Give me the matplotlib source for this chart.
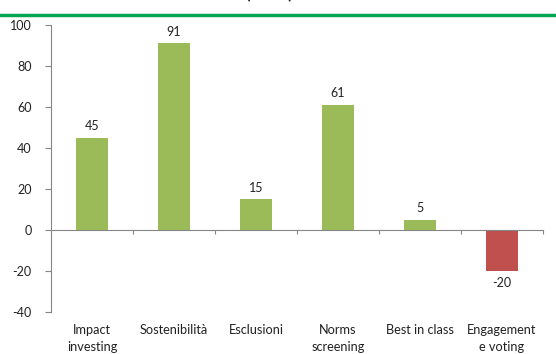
import matplotlib
matplotlib.use("Agg")
import matplotlib.pyplot as plt
from matplotlib.lines import Line2D
import matplotlib.transforms as mtransforms

categories = ["Impact\ninvesting", "Sostenibilità", "Esclusioni",
              "Norms\nscreening", "Best in class", "Engagement\ne voting"]
values = [45, 91, 15, 61, 5, -20]
y_ticks = [-40, -20, 0, 20, 40, 60, 80, 100]

GREEN = "#9BBB59"
RED = "#C0504D"
AXIS = "#868686"

plt.rcParams["font.family"] = ["Lato", "DejaVu Sans"]

W, H = 556, 354
fig = plt.figure(figsize=(W / 100, H / 100), dpi=100)
ax = fig.add_axes([51 / W, 1 - 312 / H, (543 - 51) / W, (312 - 25) / H])

x = list(range(len(categories)))
colors = [GREEN if v >= 0 else RED for v in values]
ax.bar(x, values, width=0.4, color=colors, zorder=2)

for xi, v in zip(x, values):
    if v >= 0:
        ax.annotate(f"{v}", (xi, v), xytext=(0, 4), textcoords="offset points",
                    ha="center", va="bottom", fontsize=9, color="#222222")
    else:
        ax.annotate(f"{v}", (xi, v), xytext=(0, -4), textcoords="offset points",
                    ha="center", va="top", fontsize=9, color="#222222")

ax.set_xlim(-0.5, len(categories) - 0.5)
ax.set_ylim(-40, 100)
ax.set_yticks(y_ticks)
ax.set_yticklabels([str(t) for t in y_ticks], fontsize=9, color="#222222")

# horizontal axis sits on zero with ticks at category boundaries
ax.spines["bottom"].set_position(("data", 0))
ax.spines["bottom"].set_color(AXIS)
ax.spines["left"].set_color(AXIS)
ax.spines["top"].set_visible(False)
ax.spines["right"].set_visible(False)
ax.set_xticks([i + 0.5 for i in x])
ax.set_xticklabels([])
ax.tick_params(axis="x", direction="out", length=3, color=AXIS)
ax.tick_params(axis="y", direction="out", length=4, color=AXIS, pad=10)

# category names below the plot area
trans = mtransforms.blended_transform_factory(ax.transData, ax.transAxes)
for xi, name in zip(x, categories):
    ax.text(xi, -12 / (312 - 25), name, transform=trans, ha="center", va="top",
            fontsize=9.2, color="#222222", linespacing=1.5)

# title rule and heading (heading runs off the top edge)
fig.add_artist(Line2D([0, 1], [1 - 14.5 / H, 1 - 14.5 / H], transform=fig.transFigure,
                      color="#00A651", linewidth=2.5))
fig.text(269 / W, 1 + 1 / H, "(saldo)", ha="center", va="baseline",
         fontsize=12, fontweight="bold", color="#222222")

fig.savefig("out.png", dpi=100)
